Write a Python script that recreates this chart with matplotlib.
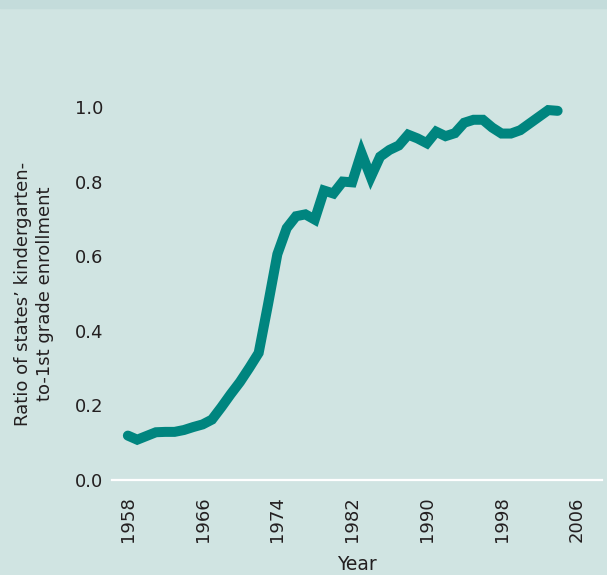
import numpy as np
import matplotlib
matplotlib.use('Agg')
from matplotlib import pyplot as plt
import matplotlib.patches as mpatches

# ratio of kindergarten to 1st grade enrollment, one value per year
years = list(range(1958, 2005))
ratio = [0.118, 0.107, 0.117, 0.127, 0.128, 0.128, 0.133, 0.141, 0.148, 0.161,
         0.194, 0.229, 0.262, 0.300, 0.340, 0.470, 0.605, 0.675, 0.707, 0.712,
         0.698, 0.776, 0.768, 0.800, 0.798, 0.877, 0.812, 0.867, 0.885, 0.897,
         0.926, 0.916, 0.903, 0.934, 0.922, 0.930, 0.958, 0.966, 0.966, 0.945,
         0.929, 0.929, 0.938, 0.956, 0.974, 0.992, 0.990]

x_ticks = [1958, 1966, 1974, 1982, 1990, 1998, 2006]
y_ticks = [0.0, 0.2, 0.4, 0.6, 0.8, 1.0]

bg = '#d0e4e2'
line_color = '#00857f'
text_color = '#231f20'

plt.rcParams['font.family'] = ['DejaVu Sans']
plt.rcParams['font.size'] = 13

fig = plt.figure(figsize=(6.07, 5.75), dpi=100, facecolor=bg)
ax = fig.add_axes([0.1845, 0.166, 0.8065, 0.7125])
ax.set_facecolor(bg)

# darker strip across the top
fig.patches.append(mpatches.Rectangle((0, 1 - 8 / 575), 1, 8 / 575,
                                      transform=fig.transFigure,
                                      color='#c4dcdb', zorder=0))

ax.plot(years, ratio, color=line_color, linewidth=7.2,
        solid_capstyle='round', solid_joinstyle='miter')

ax.set_xlim(1956.3, 2008.7)
ax.set_ylim(0, 1.1)
ax.set_xticks(x_ticks)
ax.set_xticklabels([str(y) for y in x_ticks], rotation=90)
ax.set_yticks(y_ticks)
ax.set_yticklabels(['%.1f' % v for v in y_ticks])

for side in ['top', 'left', 'right']:
    ax.spines[side].set_visible(False)
ax.spines['bottom'].set_color('white')
ax.spines['bottom'].set_linewidth(1.6)

ax.tick_params(axis='x', length=0, pad=12, colors=text_color)
ax.tick_params(axis='y', length=0, pad=6.5, colors=text_color)

ax.set_xlabel('Year', color=text_color, labelpad=9, fontsize=13.5)
fig.text(34 / 607, 1 - 294 / 575,
         'Ratio of states\u2019 kindergarten-\nto-1st grade enrollment',
         rotation=90, ha='center', va='center', color=text_color,
         linespacing=1.3)

fig.savefig('out.png', dpi=100, facecolor=bg)
